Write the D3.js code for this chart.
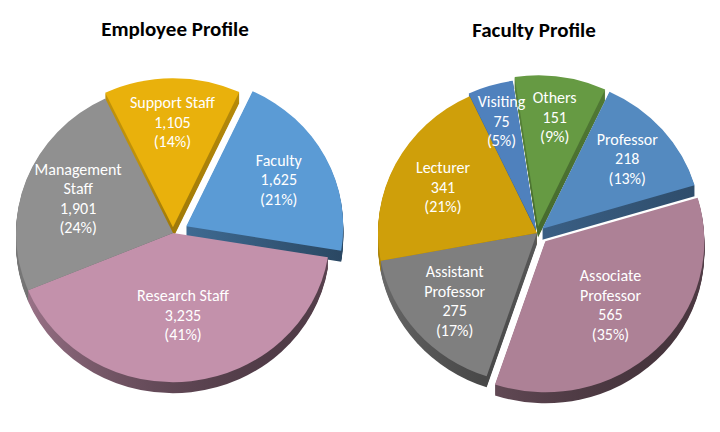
<!DOCTYPE html>
<html>
<head>
<meta charset="utf-8">
<script src="https://cdn.jsdelivr.net/npm/d3@7"></script>
<style>
  html, body { margin: 0; padding: 0; background: #ffffff; }
  svg { display: block; font-family: Calibri, Carlito, Lato, sans-serif; }
</style>
</head>
<body>
<svg id="chart" width="720" height="432"></svg>
<script>
// ---- data ----
const employeeTitle = "Employee Profile";
const employeeCategories = ["Faculty", "Research Staff", "Management Staff", "Support Staff"];
const employeeValues = [1625, 3235, 1901, 1105];

const facultyTitle = "Faculty Profile";
const facultyCategories = ["Professor", "Associate Professor", "Assistant Professor", "Lecturer", "Visiting", "Others"];
const facultyValues = [218, 565, 275, 341, 75, 151];

// ---- styles ----
const employeeColors = ["#5b9bd5", "#c391ab", "#909090", "#e9b10c"];
const employeeExplode = [15, 0, 0, 6];
const facultyColors = ["#548ac0", "#ad8196", "#7f7f7f", "#cf9f0a", "#4f81bd", "#669a43"];
const facultyExplode = [7, 12, 0, 0, 3, 7];

const svg = d3.select("#chart");
const defs = svg.append("defs");
const fmt = d3.format(",");

function drawPie(opts) {
  const { id, cx, cy, R, sy, depth, title, titleX, titleY, categories, values, colors, explode } = opts;
  const total = d3.sum(values);
  const start = 25 * Math.PI / 180;
  const pie = d3.pie().sort(null).startAngle(start).endAngle(start + 2 * Math.PI);
  const arcs = pie(values);
  const arc = d3.arc().innerRadius(0).outerRadius(R);

  const items = arcs.map((a, i) => {
    const mid = (a.startAngle + a.endAngle) / 2;
    const e = explode[i];
    return {
      a, i, mid,
      ox: e * Math.sin(mid),
      oy: -e * Math.cos(mid) * sy,
      color: colors[i],
      name: categories[i],
      value: values[i],
      p: values[i] / total
    };
  });

  // gradients for side walls
  items.forEach(d => {
    const c = d3.color(d.color);
    const g = defs.append("linearGradient")
      .attr("id", `${id}-wall-${d.i}`)
      .attr("gradientUnits", "userSpaceOnUse")
      .attr("x1", -R * 0.6).attr("y1", -R * 0.1)
      .attr("x2", R * 0.5).attr("y2", R);
    g.append("stop").attr("offset", 0).attr("stop-color", c.darker(0.55).formatHex());
    g.append("stop").attr("offset", 1).attr("stop-color", c.darker(2.6).formatHex());
  });

  const root = svg.append("g").attr("class", id);

  // side walls (extrusion), back to front
  const walls = root.append("g");
  const order = items.slice().sort((u, v) => (-Math.cos(u.mid)) - (-Math.cos(v.mid)));
  order.forEach(d => {
    const layers = d3.range(depth, 0, -1);
    walls.selectAll(null)
      .data(layers)
      .enter().append("path")
      .attr("d", arc(d.a))
      .attr("transform", k => `translate(${cx + d.ox},${cy + d.oy + k}) scale(1,${sy})`)
      .attr("fill", `url(#${id}-wall-${d.i})`);
  });

  // top faces
  root.append("g").selectAll("path")
    .data(items)
    .enter().append("path")
    .attr("d", d => arc(d.a))
    .attr("transform", d => `translate(${cx + d.ox},${cy + d.oy}) scale(1,${sy})`)
    .attr("fill", d => d.color);

  // labels
  const lh = 19.5;
  const lab = root.append("g");
  items.forEach(d => {
    const rl = R * (0.78 - 0.55 * d.p);
    const x = cx + d.ox + rl * Math.sin(d.mid);
    const y = cy + d.oy - rl * Math.cos(d.mid) * sy;
    const nameLines = d.name.length > 15 ? d.name.split(" ") : [d.name];
    const lines = nameLines.concat([fmt(d.value), `(${Math.round(d.p * 100)}%)`]);
    const t = lab.append("text")
      .attr("text-anchor", "middle")
      .attr("fill", "#ffffff")
      .attr("font-size", 16);
    lines.forEach((s, j) => {
      t.append("tspan")
        .attr("x", x)
        .attr("y", y - (lines.length - 1) * lh / 2 + j * lh + 5.5)
        .text(s);
    });
  });

  svg.append("text")
    .attr("x", titleX).attr("y", titleY)
    .attr("text-anchor", "middle")
    .attr("font-size", 21)
    .attr("font-weight", "bold")
    .attr("fill", "#000000")
    .text(title);
}

drawPie({
  id: "emp", cx: 173, cy: 233, R: 157, sy: 0.95, depth: 11,
  title: employeeTitle, titleX: 175, titleY: 36,
  categories: employeeCategories, values: employeeValues,
  colors: employeeColors, explode: employeeExplode
});

drawPie({
  id: "fac", cx: 537, cy: 233, R: 159, sy: 0.95, depth: 11,
  title: facultyTitle, titleX: 534, titleY: 37,
  categories: facultyCategories, values: facultyValues,
  colors: facultyColors, explode: facultyExplode
});
</script>
</body>
</html>
